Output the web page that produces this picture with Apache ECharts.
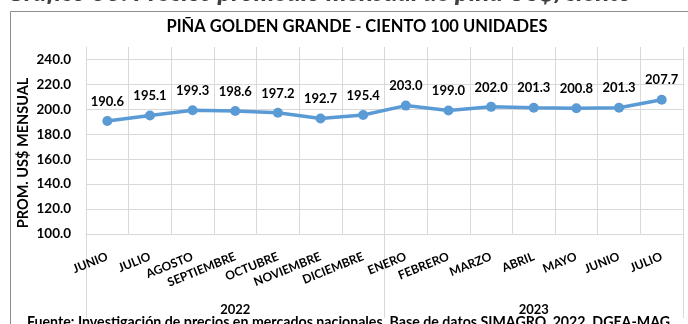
<!DOCTYPE html>
<html>
<head>
<meta charset="utf-8">
<script src="https://cdn.jsdelivr.net/npm/echarts@6/dist/echarts.min.js"></script>
<style>
  html, body { margin: 0; padding: 0; background: #fff; }
  #chart { width: 688px; height: 324px; }
</style>
</head>
<body>
<div id="chart"></div>
<script>
// Monthly average price, golden pineapple (large), US$ per hundred
const months = ['JUNIO', 'JULIO', 'AGOSTO', 'SEPTIEMBRE', 'OCTUBRE', 'NOVIEMBRE', 'DICIEMBRE',
                'ENERO', 'FEBRERO', 'MARZO', 'ABRIL', 'MAYO', 'JUNIO', 'JULIO'];
const years = ['2022', '2023'];
const prices = [190.6, 195.1, 199.3, 198.6, 197.2, 192.7, 195.4,
                203.0, 199.0, 202.0, 201.3, 200.8, 201.3, 207.7];
const yTicks = { min: 100, max: 250, step: 20 };

const heading = 'Gráfico 33: Precios promedio mensual de piña US$/ciento';
const chartTitle = 'PIÑA GOLDEN GRANDE - CIENTO 100 UNIDADES';
const yName = 'PROM. US$ MENSUAL';
const source = 'Fuente: Investigación de precios en mercados nacionales. Base de datos SIMAGRO, 2022. DGEA-MAG';

const FONT = 'Lato';
const GRID_COLOR = '#D9D9D9';

const chart = echarts.init(document.getElementById('chart'), null, { renderer: 'canvas' });

chart.setOption({
  animation: false,
  backgroundColor: '#ffffff',
  textStyle: { fontFamily: FONT },
  grid: { left: 86, right: 5, top: 47, bottom: 90, containLabel: false },
  graphic: [
    {
      type: 'rect', silent: true, z: -1,
      shape: { x: 10.5, y: 11.5, width: 700, height: 400 },
      style: { fill: 'none', stroke: '#8c8c8c', lineWidth: 1 }
    },
    {
      type: 'text', silent: true,
      x: 7, y: 6,
      style: {
        text: heading, fill: '#404040',
        font: 'italic 900 25.7px ' + FONT,
        textAlign: 'left', textVerticalAlign: 'bottom'
      }
    },
    {
      type: 'text', silent: true,
      x: 357, y: 27,
      style: {
        text: chartTitle, fill: '#000',
        font: 'bold 16.5px ' + FONT,
        textAlign: 'center', textVerticalAlign: 'middle'
      }
    },
    {
      type: 'text', silent: true,
      x: 23.5, y: 153, rotation: Math.PI / 2,
      style: {
        text: yName, fill: '#000',
        font: 'bold 14.5px ' + FONT,
        textAlign: 'center', textVerticalAlign: 'middle'
      }
    },
    {
      type: 'text', silent: true,
      x: 27, y: 315,
      style: {
        text: source, fill: '#000',
        font: 'bold 14.2px ' + FONT,
        textAlign: 'left', textVerticalAlign: 'top'
      }
    }
  ],
  xAxis: [
    {
      type: 'category',
      data: months,
      boundaryGap: true,
      axisLine: { show: true, lineStyle: { color: GRID_COLOR, width: 1 } },
      axisTick: { show: false },
      splitLine: { show: true, lineStyle: { color: GRID_COLOR, width: 1 } },
      axisLabel: {
        interval: 0, rotate: 22, margin: 22,
        color: '#000', fontWeight: 'bold', fontSize: 12, fontFamily: FONT
      }
    },
    {
      type: 'category',
      data: years,
      position: 'bottom',
      boundaryGap: true,
      axisLine: { show: false },
      axisTick: { show: true, length: 84, lineStyle: { color: GRID_COLOR, width: 1 } },
      splitLine: { show: false },
      axisLabel: {
        interval: 0, margin: 69,
        color: '#000', fontWeight: 'bold', fontSize: 13, fontFamily: FONT
      }
    }
  ],
  yAxis: {
    type: 'value',
    min: yTicks.min, max: yTicks.max, interval: yTicks.step,
    axisLine: { show: true, lineStyle: { color: GRID_COLOR, width: 1 } },
    axisTick: { show: false },
    axisLabel: {
      showMaxLabel: false,
      margin: 15,
      color: '#000', fontWeight: 'bold', fontSize: 13.5, fontFamily: FONT,
      formatter: v => v.toFixed(1)
    },
    splitLine: { show: true, showMaxLine: false, lineStyle: { color: GRID_COLOR, width: 1 } }
  },
  series: [{
    type: 'line',
    data: prices,
    xAxisIndex: 0,
    symbol: 'circle',
    symbolSize: 10,
    lineStyle: { color: '#5B9BD5', width: 3.5 },
    itemStyle: { color: '#5B9BD5' },
    label: {
      show: true, position: 'top', distance: 8,
      color: '#000', fontWeight: 'bold', fontSize: 13, fontFamily: FONT,
      formatter: p => p.value.toFixed(1)
    }
  }]
});
</script>
</body>
</html>
